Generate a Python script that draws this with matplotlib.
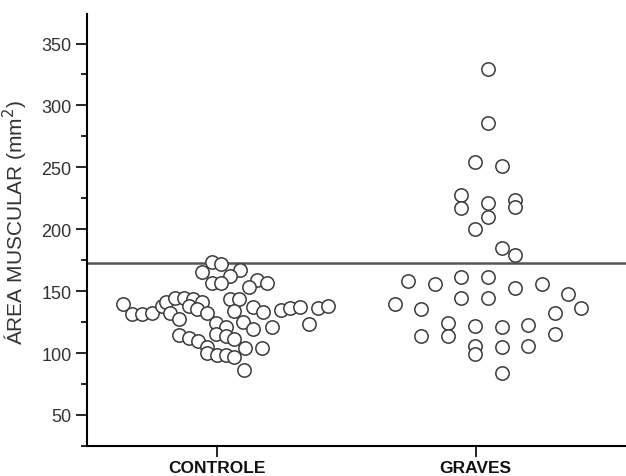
import matplotlib
matplotlib.use("Agg")
import matplotlib.pyplot as plt
from matplotlib.ticker import MultipleLocator

plt.rcParams['font.family'] = ['Liberation Sans', 'DejaVu Sans']

groups = ['CONTROLE', 'GRAVES']
cutoff = 173

# controle group: jittered x position, muscle area (mm2)
controle_x = [0.981, 1.018, 0.945, 1.090, 1.051, 0.981, 1.018, 1.157, 1.125, 1.196,
              1.051, 1.086, 1.067, 1.140, 1.179, 1.103, 1.140, 1.215, 1.247, 1.283,
              1.322, 1.391, 1.430, 1.356,
              0.640, 0.675, 0.713, 0.749, 0.788, 0.803, 0.838, 0.874, 0.910, 0.945,
              0.893, 0.925, 0.964, 0.819, 0.854,
              0.996, 1.035, 0.996, 1.035, 1.069, 1.108, 1.176, 0.854, 0.893, 0.929,
              0.964, 0.964, 1.000, 1.035, 1.069, 1.105]
controle_y = [173.7, 171.6, 165.7, 167.0, 162.1, 156.2, 156.2, 158.9, 153.0, 156.2,
              143.5, 143.5, 133.8, 137.4, 133.4, 125.3, 119.1, 121.2, 134.7, 136.0,
              137.1, 136.0, 137.9, 123.1,
              139.3, 131.2, 131.2, 132.0, 138.2, 141.4, 144.7, 144.7, 143.3, 140.9,
              138.2, 135.2, 132.6, 132.6, 127.4,
              123.9, 121.2, 115.8, 114.0, 111.2, 103.7, 103.7, 114.5, 112.4, 109.6,
              105.1, 99.7, 98.3, 98.3, 97.0, 86.2]

# graves group
graves_x = [2.047, 2.047, 1.996, 2.100, 1.945, 1.945, 2.047, 2.047, 2.151, 2.151,
            1.996, 2.100, 2.151, 1.740, 1.843, 1.945, 2.047, 2.151, 2.254, 1.945,
            2.047, 2.356, 1.687, 1.790, 2.408, 2.305, 1.893, 1.996, 2.100, 2.202,
            1.790, 1.893, 2.305, 1.996, 1.996, 2.100, 2.202, 2.100]
graves_y = [329.3, 285.4, 254.5, 251.3, 227.5, 216.8, 220.8, 210.1, 223.5, 218.2,
            199.8, 184.5, 179.6, 158.4, 155.4, 161.1, 161.1, 152.2, 155.7, 144.7,
            144.7, 148.1, 139.3, 135.2, 136.8, 132.6, 123.9, 122.1, 121.2, 122.5,
            114.0, 114.0, 115.3, 105.9, 99.1, 105.1, 105.9, 84.3]

fig = plt.figure(figsize=(6.26, 4.77), dpi=100)
ax = fig.add_axes([0.139, 0.063, 0.861, 0.906])

ax.axhline(cutoff, color='#555555', lw=1.8, zorder=1)

for xs, ys in [(controle_x, controle_y), (graves_x, graves_y)]:
    ax.plot(xs, ys, 'o', ms=9.6, mfc='white', mec='#3a3a3a', mew=1.1,
            linestyle='none', zorder=3)

ax.set_xlim(0.5, 2.58)
ax.set_ylim(25, 374)
ax.set_xticks([1, 2])
ax.set_xticklabels(groups, fontsize=12.5, fontweight='bold', color='#111111')
ax.yaxis.set_minor_locator(MultipleLocator(25))
ax.set_yticks(range(50, 351, 50))
ax.tick_params(axis='y', which='major', direction='out', length=8, width=1.2,
               labelsize=13, labelcolor='#333333', pad=3)
ax.tick_params(axis='y', which='minor', direction='out', length=4, width=1.2)
ax.tick_params(axis='x', direction='out', length=8, width=1.2, pad=2)

ax.set_ylabel('ÁREA MUSCULAR (mm$^2$)', fontsize=15, color='#333333')
ax.yaxis.set_label_coords(-0.106, 0.52)

ax.spines['top'].set_visible(False)
ax.spines['right'].set_visible(False)
ax.spines['left'].set_linewidth(1.5)
ax.spines['bottom'].set_linewidth(1.5)

fig.savefig('out.png', dpi=100)
